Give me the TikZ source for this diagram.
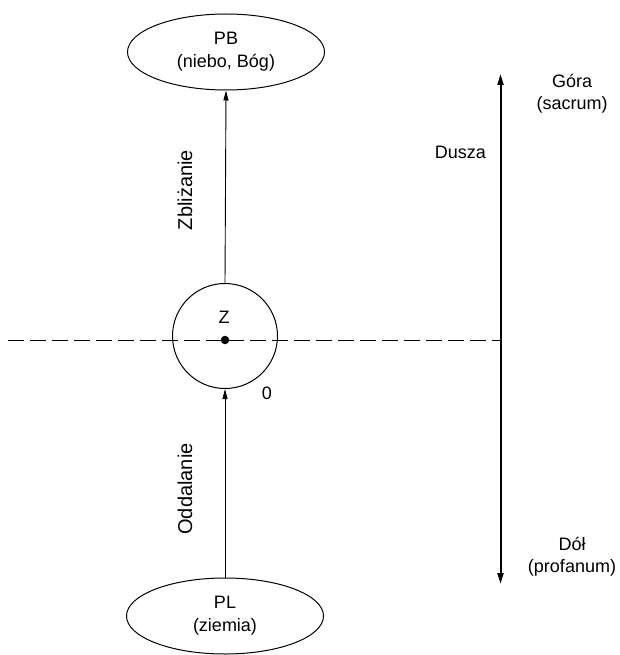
\documentclass[tikz,border=0pt]{standalone}
\usepackage{fontspec}
\setmainfont{Liberation Sans}
\usetikzlibrary{shapes.geometric,arrows.meta}
\begin{document}
\begin{tikzpicture}[x=1pt,y=-1pt,
  lbl/.style={font=\fontsize{18}{22}\selectfont, inner sep=0pt, align=center},
  rlbl/.style={font=\fontsize{20}{24}\selectfont, inner sep=0pt, rotate=90},
  oval/.style={draw, line width=1pt, ellipse, minimum width=197pt, minimum height=76pt, inner sep=0pt, align=center, font=\fontsize{18}{23}\selectfont},
  conn/.style={line width=0.9pt, -{Triangle[length=10pt,width=5pt]}},
  axis/.style={line width=2pt, {Triangle[length=11pt,width=6pt]}-{Triangle[length=11pt,width=6pt]}},
  dashline/.style={line width=1pt, dash pattern=on 16pt off 6pt}]
\useasboundingbox (0,0) rectangle (619,655);
% nodes
\node[oval] (pb) at (226,52) {PB\\(niebo, Bóg)};
\node[oval] (pl) at (225,616) {PL\\(ziemia)};
\node[draw, circle, line width=1pt, minimum size=105pt, inner sep=0pt] (z) at (225,336) {};
\node[lbl] (zl) at (224,317) {Z};
\node[circle, fill, minimum size=8.5pt, inner sep=0pt] (dot) at (225,340) {};
\node[lbl] (zero) at (267,393) {0};
% dashed horizontal line
\coordinate (dl) at (8,340);
\coordinate (dr) at (500.5,340);
\draw[dashline] (dl) -- (dr);
% arrows
\draw[conn] (z.north) -- (pb.south);
\draw[conn] (pl.north) -- (z.south);
\node[rlbl] (zbl) at (185,190) {Zbliżanie};
\node[rlbl] (odd) at (185,489) {Oddalanie};
% vertical axis
\coordinate (at) at (500.5,74);
\coordinate (ab) at (500.5,584);
\draw[axis] (at) -- (ab);
\node[lbl] (gora) at (572,94) {Góra\\(sacrum)};
\node[lbl, anchor=east] (dusza) at (486,152) {Dusza};
\node[lbl] (dol) at (572,557) {Dół\\(profanum)};
\end{tikzpicture}
\end{document}
